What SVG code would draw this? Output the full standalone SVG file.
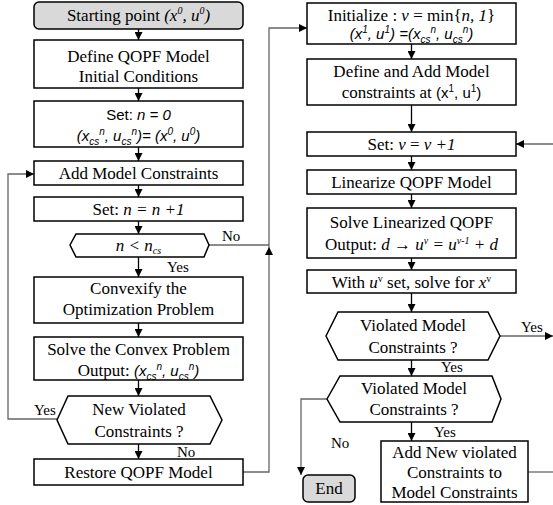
<svg xmlns="http://www.w3.org/2000/svg" width="553" height="505" viewBox="0 0 553 505">
<defs>
<marker id="ah" markerWidth="8" markerHeight="8" refX="8" refY="4" orient="auto" markerUnits="userSpaceOnUse">
<path d="M0,0 L8,4 L0,8 z" fill="#000"/>
</marker>
<style>
.box{fill:#fff;stroke:#000;stroke-width:1.5}
.term{fill:#d9d9d9;stroke:#000;stroke-width:1.5}
.t{font-family:'Liberation Serif',Tinos,'Times New Roman','DejaVu Serif',serif;font-size:17px;fill:#000;text-anchor:middle}
.s{font-family:'Liberation Sans',Arimo,Arial,sans-serif;font-size:15px;fill:#000;text-anchor:middle}
.lab{font-family:'Liberation Serif',Tinos,'Times New Roman','DejaVu Serif',serif;font-size:15px;fill:#000}
.i{font-style:italic}
.sm{font-size:10px}
.ar{fill:none;stroke:#000;stroke-width:1.3;marker-end:url(#ah)}
.ln{fill:none;stroke:#666;stroke-width:1.3}
.lna{fill:none;stroke:#666;stroke-width:1.3;marker-end:url(#ah)}
</style>
</defs>
<g id="connectors">
<path class="ar" d="M138.5,29 V40"/>
<path class="ar" d="M138.5,88 V101"/>
<path class="ar" d="M138.5,147 V161"/>
<path class="ar" d="M138.5,185 V197"/>
<path class="ar" d="M138.5,221 V234"/>
<path class="ar" d="M138.5,257 V277"/>
<path class="ar" d="M138.5,323 V337"/>
<path class="ar" d="M138.5,380 V396"/>
<path class="ar" d="M138.5,444 V459"/>
<path class="lna" d="M57,419 H8 V174 H34"/>
<path class="lna" d="M243,472 H269 V247"/>
<path class="ln" d="M209,245 H269"/>
<path class="lna" d="M269,247 V28 H307"/>
<path class="ar" d="M411.5,44 V59"/>
<path class="ar" d="M411.5,105 V132"/>
<path class="ar" d="M411.5,156 V170"/>
<path class="ar" d="M411.5,194 V208"/>
<path class="ar" d="M411.5,258 V270"/>
<path class="ar" d="M411.5,293 V312"/>
<path class="ar" d="M411.5,360 V376"/>
<path class="ar" d="M411.5,422 V441"/>
<path class="lna" d="M500,336 H553"/>
<path class="lna" d="M553,144 H516"/>
<path class="ln" d="M528,472 H553"/>
<path class="lna" d="M327,399 H301 V475"/>
<text class="lab" x="222" y="241" font-family="Liberation Serif, serif">No</text>
<text class="lab" x="167" y="272">Yes</text>
<text class="lab" x="34" y="415">Yes</text>
<text class="lab" x="177" y="457">No</text>
<text class="lab" x="521" y="332">Yes</text>
<text class="lab" x="441" y="372">Yes</text>
<text class="lab" x="434" y="437">Yes</text>
<text class="lab" x="331" y="448">No</text>
</g>
<g id="start">
<rect class="term" x="34" y="2" width="209" height="27" rx="5"/>
<text class="t" x="138.5" y="21">Starting point <tspan class="i">(x<tspan class="sm" dy="-7">0</tspan><tspan dy="7">, u</tspan><tspan class="sm" dy="-7">0</tspan><tspan dy="7">)</tspan></tspan></text>
</g>
<g id="define">
<rect class="box" x="34" y="40" width="209" height="48"/>
<text class="t" x="138.5" y="62">Define QOPF Model</text>
<text class="t" x="138.5" y="82">Initial Conditions</text>
</g>
<g id="setn0">
<rect class="box" x="34" y="101" width="209" height="46"/>
<text class="s" x="138.5" y="120">Set: <tspan class="i">n = 0</tspan></text>
<text class="s i" x="138.5" y="141">(x<tspan class="sm" dy="4">cs</tspan><tspan class="sm" dy="-10">n</tspan><tspan dy="6">, u</tspan><tspan class="sm" dy="4">cs</tspan><tspan class="sm" dy="-10">n</tspan><tspan dy="6">)= (x</tspan><tspan class="sm" dy="-6">0</tspan><tspan dy="6">, u</tspan><tspan class="sm" dy="-6">0</tspan><tspan dy="6">)</tspan></text>
</g>
<g id="addmodel">
<rect class="box" x="34" y="161" width="209" height="24"/>
<text class="t" x="138.5" y="179">Add Model Constraints</text>
</g>
<g id="setn1">
<rect class="box" x="34" y="197" width="209" height="24"/>
<text class="t" x="138.5" y="215">Set:  <tspan class="i">n = n +1</tspan></text>
</g>
<g id="cond1">
<path class="box" d="M70,245 L76,234 H204 L209,245 L204,257 H76 Z"/>
<text class="t i" x="138.5" y="251">n &lt; n<tspan class="sm" dy="3">cs</tspan></text>
</g>
<g id="convexify">
<rect class="box" x="34" y="277" width="209" height="46"/>
<text class="t" x="138.5" y="294">Convexify the</text>
<text class="t" x="138.5" y="315">Optimization Problem</text>
</g>
<g id="solveconvex">
<rect class="box" x="34" y="337" width="209" height="43"/>
<text class="t" x="138.5" y="355">Solve the Convex Problem</text>
<text class="t" x="138.5" y="376">Output:  <tspan class="s i" style="font-size:15px">(x<tspan class="sm" dy="4">cs</tspan><tspan class="sm" dy="-10">n</tspan><tspan dy="6">, u</tspan><tspan class="sm" dy="4">cs</tspan><tspan class="sm" dy="-10">n</tspan><tspan dy="6">)</tspan></tspan></text>
</g>
<g id="cond2">
<path class="box" d="M57,420 L68,396 H210 L222,420 L210,444 H68 Z"/>
<text class="t" x="139" y="415">New Violated</text>
<text class="t" x="139" y="437">Constraints ?</text>
</g>
<g id="restore">
<rect class="box" x="34" y="459" width="209" height="26"/>
<text class="t" x="138.5" y="478">Restore QOPF Model</text>
</g>
<g id="init">
<rect class="box" x="307" y="3" width="209" height="41"/>
<text class="t" x="411.5" y="21">Initialize : <tspan class="i">v</tspan> = min{<tspan class="i">n, 1</tspan>}</text>
<text class="s i" x="411.5" y="39">(x<tspan class="sm" dy="-6">1</tspan><tspan dy="6">, u</tspan><tspan class="sm" dy="-6">1</tspan><tspan dy="6">) =(x</tspan><tspan class="sm" dy="4">cs</tspan><tspan class="sm" dy="-10">n</tspan><tspan dy="6">, u</tspan><tspan class="sm" dy="4">cs</tspan><tspan class="sm" dy="-10">n</tspan><tspan dy="6">)</tspan></text>
</g>
<g id="defineadd">
<rect class="box" x="307" y="59" width="209" height="46"/>
<text class="t" x="411.5" y="77">Define and Add Model</text>
<text class="t" x="411.5" y="98">constraints at <tspan class="s" style="font-size:15px">(x<tspan class="sm" dy="-6">1</tspan><tspan dy="6">, u</tspan><tspan class="sm" dy="-6">1</tspan><tspan dy="6">)</tspan></tspan></text>
</g>
<g id="setv">
<rect class="box" x="307" y="132" width="209" height="24"/>
<text class="t" x="411.5" y="150">Set:  <tspan class="i">v</tspan> = <tspan class="i">v +1</tspan></text>
</g>
<g id="linearize">
<rect class="box" x="307" y="170" width="209" height="24"/>
<text class="t" x="411.5" y="188">Linearize QOPF Model</text>
</g>
<g id="solvelin">
<rect class="box" x="307" y="208" width="209" height="50"/>
<text class="t" x="411.5" y="228">Solve Linearized QOPF</text>
<text class="t" x="411.5" y="250">Output: <tspan class="i">d</tspan> → <tspan class="i">u<tspan class="sm" dy="-6">v</tspan><tspan dy="6"> = u</tspan><tspan class="sm" dy="-6">v-1</tspan><tspan dy="6"> + d</tspan></tspan></text>
</g>
<g id="withu">
<rect class="box" x="307" y="270" width="209" height="23"/>
<text class="t" x="411.5" y="288">With <tspan class="i">u</tspan><tspan class="sm" dy="-6">v</tspan><tspan dy="6"> set, solve for </tspan><tspan class="i">x</tspan><tspan class="sm" dy="-6">v</tspan></text>
</g>
<g id="cond3">
<path class="box" d="M326,336 L338,312 H488 L500,336 L488,360 H338 Z"/>
<text class="t" x="413" y="331">Violated Model</text>
<text class="t" x="413" y="353">Constraints ?</text>
</g>
<g id="cond4">
<path class="box" d="M327,399 L340,376 H492 L501,399 L492,422 H340 Z"/>
<text class="t" x="414" y="394">Violated Model</text>
<text class="t" x="414" y="415">Constraints ?</text>
</g>
<g id="end">
<rect class="term" x="303" y="475" width="52" height="27" rx="5"/>
<text class="t" x="329" y="494">End</text>
</g>
<g id="addnew">
<rect class="box" x="381" y="441" width="147" height="61"/>
<text class="t" x="454.5" y="458">Add New violated</text>
<text class="t" x="454.5" y="478">Constraints to</text>
<text class="t" x="454.5" y="498">Model Constraints</text>
</g>
</svg>
